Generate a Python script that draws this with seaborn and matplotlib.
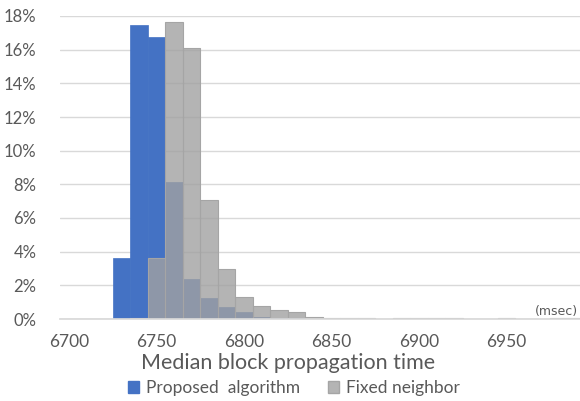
import matplotlib.pyplot as plt
import numpy as np
import pandas as pd
import seaborn as sns
from matplotlib.patches import Patch
from matplotlib.ticker import FuncFormatter

sns.set_theme(style="white")
plt.rcParams['font.family'] = ['Lato', 'DejaVu Sans']

# bin centres (msec), width 10
bin_centers = list(range(6700, 7000, 10))

# share of blocks (%) per bin
proposed = [0, 0, 0.02, 3.63, 17.44, 16.73, 8.11, 2.38, 1.25, 0.69,
            0.40, 0.14, 0.05, 0.03, 0.02, 0.02, 0.02, 0.02, 0.02, 0.02,
            0.01, 0.01, 0.01, 0.02, 0.02, 0.01, 0.02, 0, 0.01, 0]
fixed = [0, 0, 0, 0, 0.05, 3.63, 17.64, 16.10, 7.08, 2.95,
         1.33, 0.79, 0.55, 0.40, 0.14, 0.06, 0.06, 0.06, 0, 0.06,
         0.06, 0.06, 0.06, 0, 0, 0.07, 0, 0, 0.06, 0.06]

series_names = ['Proposed  algorithm', 'Fixed neighbor']
x_ticks = [6700, 6750, 6800, 6850, 6900, 6950]
y_ticks = [0, 2, 4, 6, 8, 10, 12, 14, 16, 18]

df = pd.DataFrame({'t': bin_centers, 'proposed': proposed, 'fixed': fixed})

blue = '#4472C4'
gray = '#A1A1A1'
text_col = '#595959'

edges = [c - 5 for c in bin_centers] + [bin_centers[-1] + 5]

fig = plt.figure(figsize=(5.8, 4.01), dpi=100)
ax = fig.add_axes([60 / 580, 1 - 319 / 401, 525 / 580, 303 / 401])

sns.histplot(data=df, x='t', weights='proposed', bins=edges, ax=ax,
             color=blue, alpha=1, edgecolor=blue, linewidth=0.5)
sns.histplot(data=df, x='t', weights='fixed', bins=edges, ax=ax,
             color=gray, alpha=0.8, edgecolor='#A5A5A5', linewidth=0.8)

ax.set_xlim(6695, 6995)
ax.set_ylim(0, 18)
ax.set_xticks(x_ticks)
ax.set_yticks(y_ticks)
ax.yaxis.set_major_formatter(FuncFormatter(lambda v, p: f'{v:.0f}%'))
ax.grid(axis='y', color='#D9D9D9', linewidth=1)
ax.set_axisbelow(True)
for s in ['top', 'right', 'left']:
    ax.spines[s].set_visible(False)
ax.spines['bottom'].set_color('#D9D9D9')
ax.tick_params(axis='x', length=0, labelsize=12.5, colors=text_col, pad=11)
ax.tick_params(axis='y', length=0, labelsize=12, colors=text_col, pad=17)
ax.set_xlabel('')
ax.set_ylabel('')

fig.text(556 / 580, 1 - 311 / 401, '(msec)', fontsize=9, color=text_col,
         ha='center', va='center', family=['DejaVu Sans'])
fig.text(288 / 580, 1 - 363 / 401, 'Median block propagation time',
         fontsize=15.5, color=text_col, ha='center', va='center')

handles = [Patch(facecolor=blue, edgecolor=blue),
           Patch(facecolor='#B4B4B4', edgecolor='#A5A5A5')]
fig.legend(handles, series_names, loc='center', ncol=2, frameon=False,
           bbox_to_anchor=(294 / 580, 1 - 388 / 401), fontsize=12.5,
           labelcolor=text_col, handlelength=0.65, handleheight=0.65,
           handletextpad=0.4, columnspacing=1.6)

fig.savefig('out.png', dpi=100)
